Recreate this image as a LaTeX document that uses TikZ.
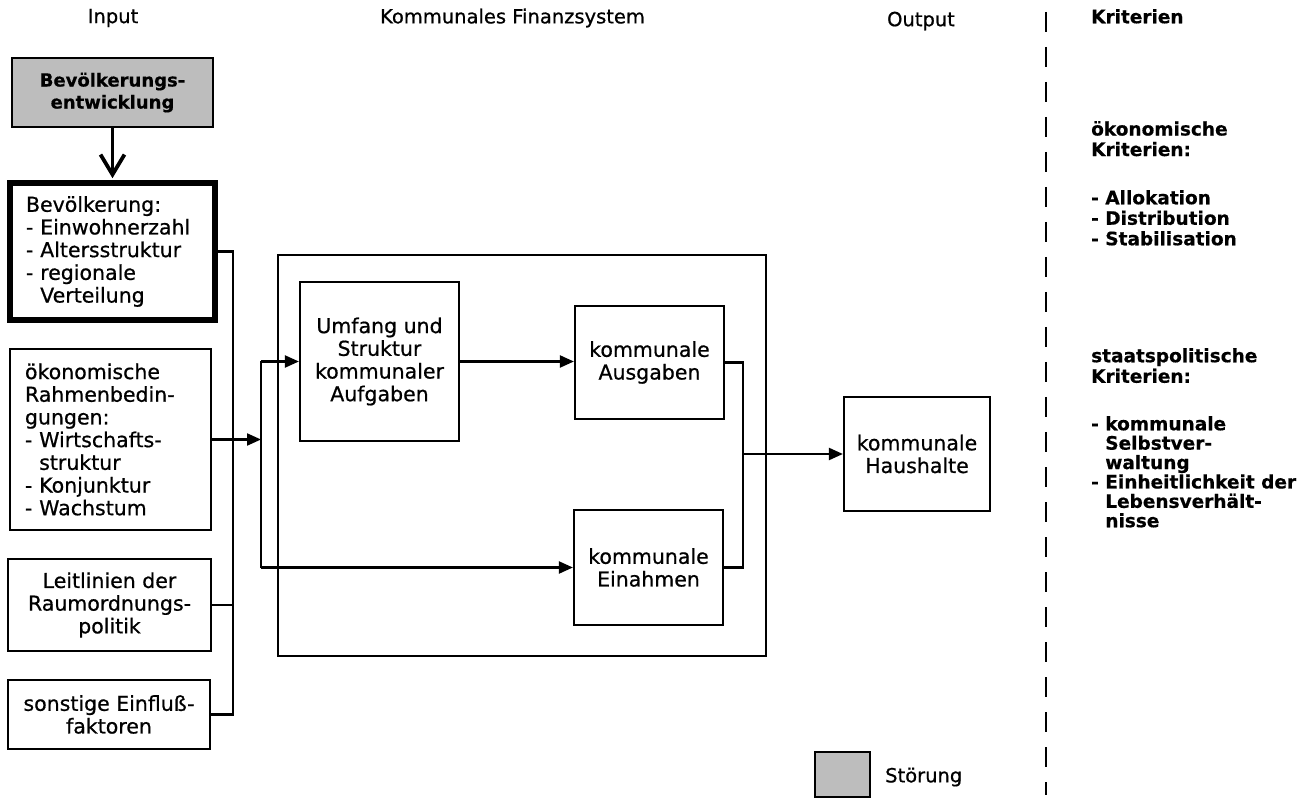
\documentclass[tikz,border=0pt]{standalone}
\usepackage{fontspec}
\setmainfont{DejaVu Sans}[UprightFeatures={FakeBold=0.7}, BoldFeatures={FakeBold=0.5}]
\usetikzlibrary{arrows.meta}
\definecolor{stoer}{gray}{0.74}
\newcommand{\bxfont}{\fontsize{20.5}{22.7}\selectfont}
\newcommand{\hdfont}{\fontsize{19.5}{22}\selectfont}
\newcommand{\entwfont}{\fontsize{18}{22}\selectfont\bfseries}
\newcommand{\krfont}{\fontsize{18.5}{20.5}\selectfont\bfseries}
\newcommand{\krfontb}{\fontsize{18.5}{19.4}\selectfont\bfseries}
\newcommand{\ind}{\phantom{- }}
\begin{document}
\begin{tikzpicture}[x=1pt,y=-1pt,
  box/.style={draw, line width=2.2pt, inner sep=0pt, font=\bxfont, align=center},
  conn/.style={line width=2.2pt},
  arr/.style={line width=2.2pt, -{Triangle[length=14pt,width=12pt]}},
  hd/.style={inner sep=0pt, font=\hdfont},
  kr/.style={inner sep=0pt, anchor=north west, align=left}]
\useasboundingbox (0,0) rectangle (1304,799);
% headers
\node[hd] (hin) at (113,18) {Input};
\node[hd] (hfin) at (512.5,18) {Kommunales Finanzsystem};
\node[hd] (hout) at (921,21) {Output};
\node[kr, font=\krfont] (hkr) at (1091,9) {Kriterien};
% separator
\draw[line width=2.4pt, dash pattern=on 20pt off 15pt] (1046,12) -- (1046,795);
% input boxes
\node[box, fill=stoer, font=\entwfont, minimum width=201pt, minimum height=69pt] (entw) at (112.5,92.5) {Bevölkerungs-\\entwicklung};
\node[box, line width=5.5pt, minimum width=205pt, minimum height=137pt, text width=173pt, align=left] (bev) at (112.5,251.5)
  {Bevölkerung:\\- Einwohnerzahl\\- Altersstruktur\\- regionale\\\ind Verteilung};
\node[box, minimum width=201pt, minimum height=181pt, text width=171pt, align=left] (oek) at (110.5,439.5)
  {ökonomische\\Rahmenbedin-\\gungen:\\- Wirtschafts-\\\ind struktur\\- Konjunktur\\- Wachstum};
\node[box, minimum width=203pt, minimum height=92pt] (leit) at (109.5,605) {Leitlinien der\\Raumordnungs-\\politik};
\node[box, minimum width=202pt, minimum height=69pt] (sonst) at (109,714.5) {sonstige Einfluß-\\faktoren};
% system
\node[draw, line width=2.2pt, inner sep=0pt, minimum width=488pt, minimum height=401pt] (fin) at (522,455.5) {};
\node[box, minimum width=159pt, minimum height=159pt] (umf) at (379.5,361.5) {Umfang und\\Struktur\\kommunaler\\Aufgaben};
\node[box, minimum width=149pt, minimum height=113pt] (aus) at (649.5,362.5) {kommunale\\Ausgaben};
\node[box, minimum width=149pt, minimum height=115pt] (ein) at (648.5,567.5) {kommunale\\Einahmen};
\node[box, minimum width=146pt, minimum height=114pt] (haus) at (917,454) {kommunale\\Haushalte};
% legend
\node[box, fill=stoer, minimum width=55pt, minimum height=45pt] (leg) at (842.5,774.5) {};
\node[hd, anchor=west] (legt) at (885,777) {Störung};
% criteria
\node[kr, font=\krfont] (kr1) at (1091,121) {ökonomische\\Kriterien:};
\node[kr, font=\krfont] (kr2) at (1091,190) {- Allokation\\- Distribution\\- Stabilisation};
\node[kr, font=\krfont] (kr3) at (1091,348) {staatspolitische\\Kriterien:};
\node[kr, font=\krfontb] (kr4) at (1091,416) {- kommunale\\\ind Selbstver-\\\ind waltung\\- Einheitlichkeit der\\\ind Lebensverhält-\\\ind nisse};
% coordinates
\coordinate (busA) at (233,500);
\coordinate (busB) at (261,500);
\coordinate (jo) at (743,454);
% connectors
\draw[line width=3.8pt, -{Straight Barb[length=20pt,width=24pt]}, shorten >=2pt] (entw.south) -- (bev.north);
\draw[conn] (bev.east) -| (busA |- sonst.east) -- (sonst.east);
\draw[conn] (leit.east) -- (leit.east -| busA);
\draw[arr] (oek.east) -- (oek.east -| busB);
\draw[conn] (busB |- umf.west) -- (busB |- ein.west);
\draw[arr] (busB |- umf.west) -- (umf.west);
\draw[arr] (busB |- ein.west) -- (ein.west);
\draw[arr] (umf.east) -- (umf.east -| aus.west);
\draw[conn] (aus.east) -| (jo);
\draw[conn] (ein.east) -| (jo);
\draw[arr] (jo) -- (haus.west);
\end{tikzpicture}
\end{document}
